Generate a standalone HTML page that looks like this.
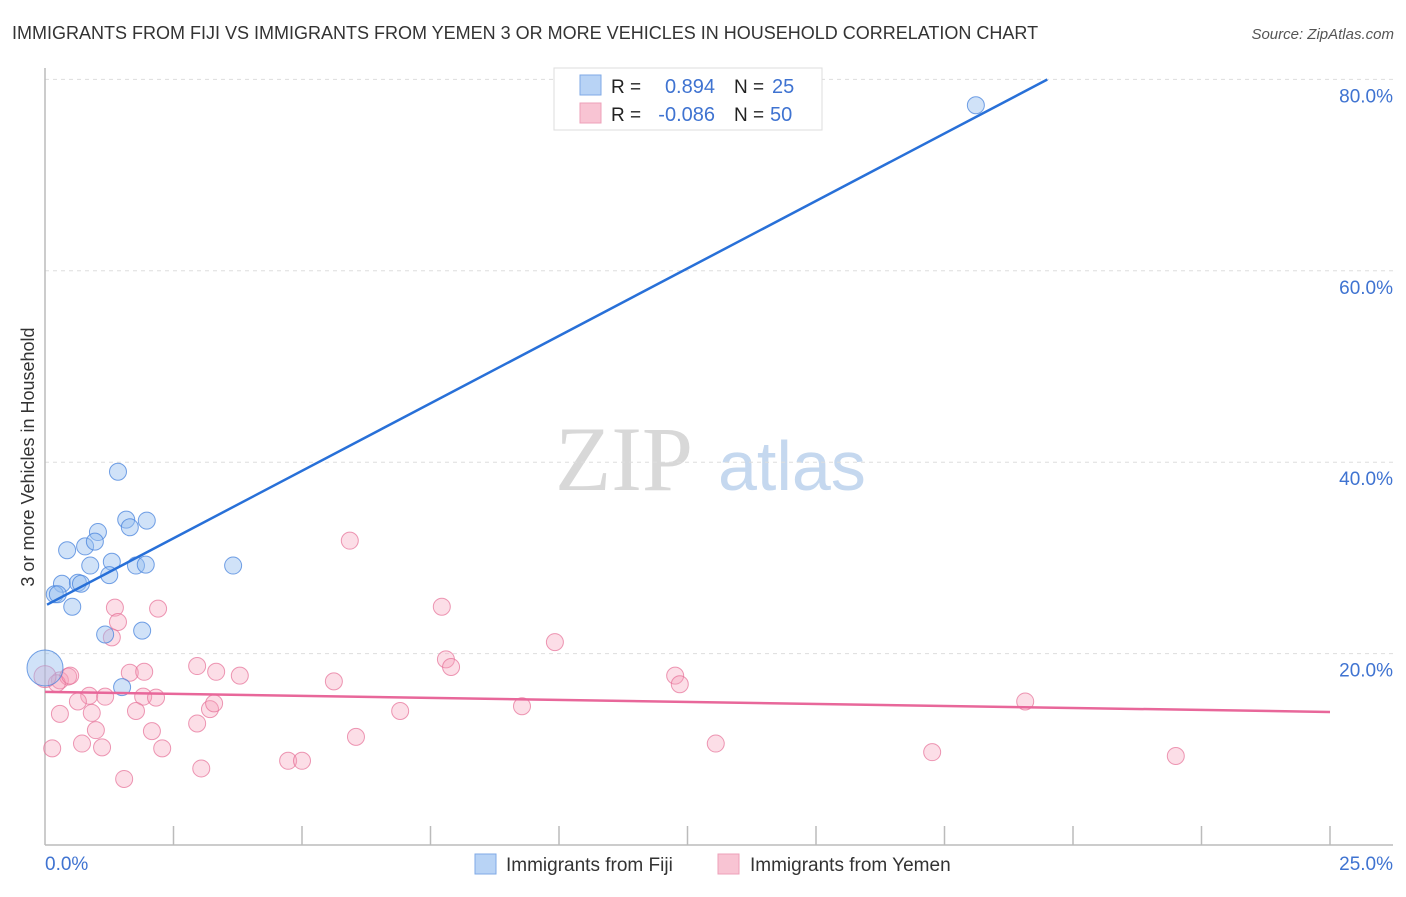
<!DOCTYPE html>
<html><head><meta charset="utf-8"><style>
body{margin:0;background:#fff;font-family:"Liberation Sans",sans-serif;}
svg text{font-family:"Liberation Sans",sans-serif;}
</style></head><body>
<svg id="chart" width="1406" height="892" xmlns="http://www.w3.org/2000/svg">
<text x="12" y="39" font-size="18" fill="#333">IMMIGRANTS FROM FIJI VS IMMIGRANTS FROM YEMEN 3 OR MORE VEHICLES IN HOUSEHOLD CORRELATION CHART</text>
<text x="1394" y="39" font-size="15" fill="#555" font-style="italic" text-anchor="end">Source: ZipAtlas.com</text>
<text x="34" y="457" font-size="18" fill="#333" transform="rotate(-90 34 457)" text-anchor="middle">3 or more Vehicles in Household</text>
<g><text x="555" y="490" font-size="92" fill="#d8d8d8" font-family="Liberation Serif" style="font-family:'Liberation Serif',serif">ZIP</text><text x="718" y="490" font-size="70" fill="#c5d8ef">atlas</text></g>
<g id="grid"></g><g id="axes"></g><g id="pts"></g><g id="lines"></g>
<g>
<rect x="554" y="68" width="268" height="62" fill="#fff" stroke="#ddd"/>
<rect x="580" y="75" width="21" height="20" fill="#b8d3f5" stroke="#7fa9e6"/>
<rect x="580" y="103" width="21" height="20" fill="#f8c4d3" stroke="#eea0b8"/>
<text x="611" y="93" font-size="19" fill="#222">R =</text><text x="715" y="93" font-size="20" fill="#3f73d1" text-anchor="end">0.894</text>
<text x="734" y="93" font-size="19" fill="#222">N =</text><text x="772" y="93" font-size="20" fill="#3f73d1">25</text>
<text x="611" y="121" font-size="19" fill="#222">R =</text><text x="715" y="121" font-size="20" fill="#3f73d1" text-anchor="end">-0.086</text>
<text x="734" y="121" font-size="19" fill="#222">N =</text><text x="770" y="121" font-size="20" fill="#3f73d1">50</text>
</g>
<g>
<rect x="475" y="854" width="21" height="20" fill="#b8d3f5" stroke="#7fa9e6"/>
<text x="506" y="871" font-size="19" fill="#333">Immigrants from Fiji</text>
<rect x="718" y="854" width="21" height="20" fill="#f8c4d3" stroke="#eea0b8"/>
<text x="750" y="871" font-size="19" fill="#333">Immigrants from Yemen</text>
</g>
</svg>
<script>
const yTicks=[20,40,60,80];
const xTickLabels=["0.0%","25.0%"];
const fijiX=[1.42,1.58,1.98,1.65,1.03,0.43,0.78,0.97,1.30,0.88,1.77,1.96,3.66,1.25,0.33,0.64,0.70,0.19,0.25,0.53,1.17,1.89,1.50,18.11,0.0];
const fijiY=[39.0,34.0,33.9,33.2,32.7,30.8,31.2,31.7,29.6,29.2,29.2,29.3,29.2,28.2,27.3,27.4,27.3,26.2,26.2,24.9,22.0,22.4,16.5,77.3,18.5];
const fijiR=[8.5,8.5,8.5,8.5,8.5,8.5,8.5,8.5,8.5,8.5,8.5,8.5,8.5,8.5,8.5,8.5,8.5,8.5,8.5,8.5,8.5,8.5,8.5,8.5,18];
const yemenX=[5.93,7.72,9.92,1.36,2.20,1.42,1.30,7.80,7.90,2.96,3.33,3.79,5.62,12.26,12.35,1.65,1.93,0.29,0.45,0.23,0.86,1.17,0.64,1.91,2.16,3.21,3.29,1.77,0.29,0.91,6.91,9.28,19.07,2.96,0.99,2.08,6.05,0.72,1.11,2.28,0.14,13.05,17.26,22.0,4.73,5.00,3.04,1.54,0.0,0.49];
const yemenY=[31.8,24.9,21.2,24.8,24.7,23.3,21.7,19.4,18.6,18.7,18.1,17.7,17.1,17.7,16.8,18.0,18.1,17.2,17.6,16.9,15.6,15.5,15.0,15.5,15.4,14.2,14.8,14.0,13.7,13.8,14.0,14.5,15.0,12.7,12.0,11.9,11.3,10.6,10.2,10.1,10.1,10.6,9.7,9.3,8.8,8.8,8.0,6.9,17.6,17.7];
const fijiLine=[25.0,2.82];
const yemenLine=[16.0,-0.084];
const NS="http://www.w3.org/2000/svg";
const X=v=>45+v*51.4, Y=v=>845-v*9.57;
function mk(t,a,p){const e=document.createElementNS(NS,t);for(const k in a)e.setAttribute(k,a[k]);p.appendChild(e);return e;}
const grid=document.getElementById('grid'),axes=document.getElementById('axes'),pts=document.getElementById('pts'),lines=document.getElementById('lines');
yTicks.forEach(t=>{
 const l=mk('line',{x1:45,x2:1393,y1:Y(t),y2:Y(t),stroke:'#ddd','stroke-dasharray':'4,4'},grid);
 
 
 const tx=mk('text',{x:1393,y:Y(t)+23,'font-size':19,fill:'#3f73d1','text-anchor':'end'},grid);
 tx.textContent=t.toFixed(1)+'%';
 
 
});
mk('line',{x1:45,x2:45,y1:68,y2:845,stroke:'#bbb','stroke-width':1.5},axes);
mk('line',{x1:45,x2:1393,y1:845,y2:845,stroke:'#bbb','stroke-width':1.5},axes);
for(let i=1;i<=10;i++){const x=X(i*2.5);const t=mk('line',{x1:x,x2:x,y1:826,y2:845,stroke:'#bbb','stroke-width':1.5},axes);
 
 }
const xl0=mk('text',{x:45,y:870,'font-size':19,fill:'#3f73d1'},axes);xl0.textContent=xTickLabels[0];


const xl1=mk('text',{x:1393,y:870,'font-size':19,fill:'#3f73d1','text-anchor':'end'},axes);xl1.textContent=xTickLabels[1];


yemenX.forEach((v,i)=>{const c=mk('circle',{cx:X(v),cy:Y(yemenY[i]),r:(v===0?11:8.5),fill:'rgba(245,160,185,0.35)',stroke:'rgba(230,110,150,0.7)','stroke-width':1},pts);
 
 });
fijiX.forEach((v,i)=>{const c=mk('circle',{cx:X(v),cy:Y(fijiY[i]),r:fijiR[i],fill:'rgba(150,190,240,0.45)',stroke:'rgba(70,130,220,0.75)','stroke-width':1},pts);
 
 });
const fl=mk('line',{x1:X(0.04),y1:Y(fijiLine[0]+fijiLine[1]*0.04),x2:X(19.5),y2:Y(fijiLine[0]+fijiLine[1]*19.5),stroke:'#2870d8','stroke-width':2.5},lines);


const yl=mk('line',{x1:X(0),y1:Y(yemenLine[0]),x2:X(25),y2:Y(yemenLine[0]+yemenLine[1]*25),stroke:'#e8679a','stroke-width':2.5},lines);


</script>
</body></html>
